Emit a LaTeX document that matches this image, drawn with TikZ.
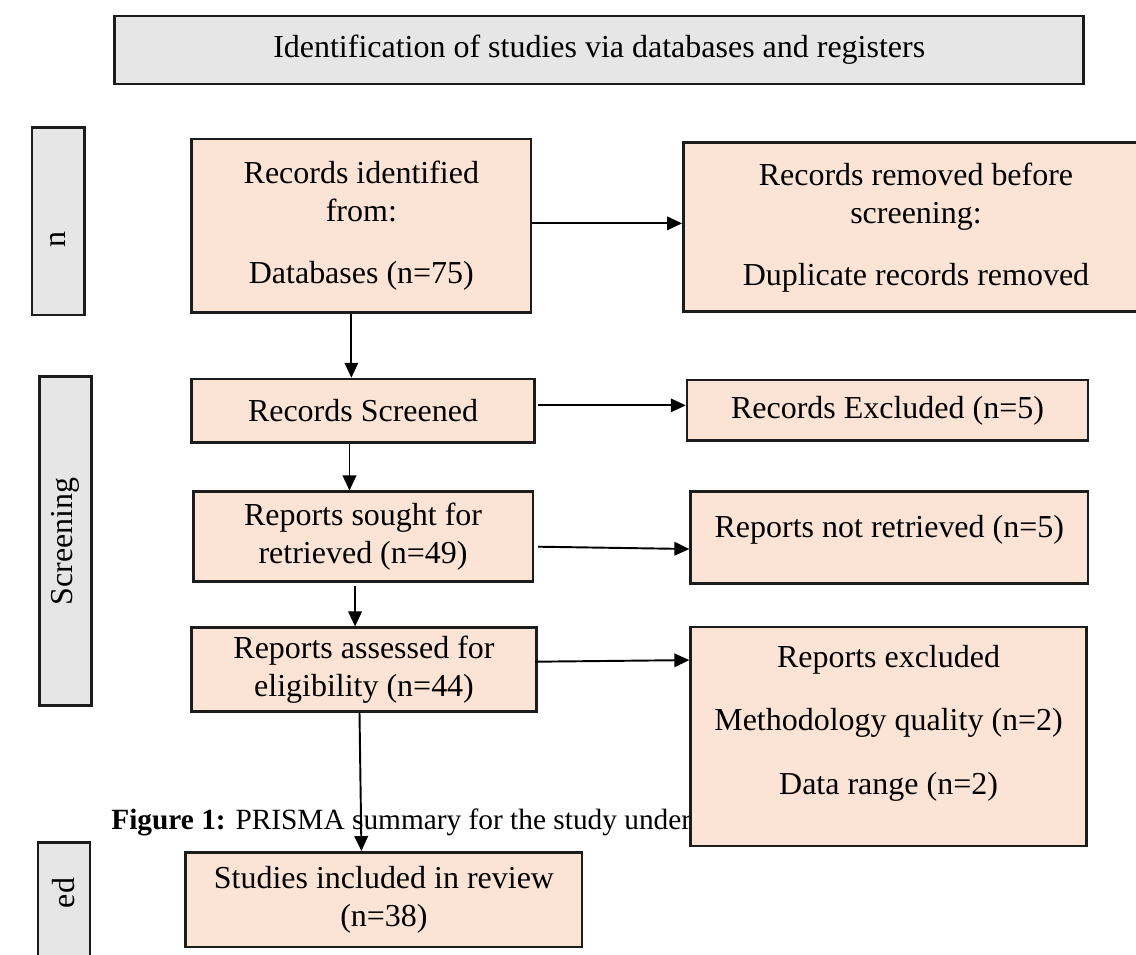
\documentclass[tikz,border=0pt]{standalone}
\usepackage{fontspec}
\setmainfont{Liberation Serif}
\usepackage{xcolor}
\usepackage{tikz}
\usetikzlibrary{arrows.meta}
\definecolor{Peach}{HTML}{FBE4D5}
\definecolor{PanelGray}{HTML}{E7E6E6}
\definecolor{Ink}{HTML}{1C1C1C}

\begin{document}
\begin{tikzpicture}[
  box/.style={rectangle, draw=Ink, line width=1.4pt, fill=Peach, align=center, inner sep=0pt, font=\fontsize{18.2}{21.8}\selectfont},
  band/.style={rectangle, draw=Ink, line width=1.4pt, fill=PanelGray, inner sep=0pt, font=\fontsize{18.2}{21.8}\selectfont},
  bandtext/.style={rotate=90, inner sep=0pt, font=\fontsize{18.2}{21.8}\selectfont},
  arrow/.style={-{Triangle[length=0.3cm,width=0.27cm]}, line width=1.1pt, draw=black}
]
\path[use as bounding box, clip] (0,0) rectangle (22.72,-19.08);
\node[band, minimum width=19.38cm, minimum height=1.36cm] (header) at (11.984,-1.0) {Identification of studies via databases and registers};
\node[band, minimum width=1.046cm, minimum height=3.746cm] (bandid) at (1.163,-4.427) {};
\node[bandtext] (bandidtext) at (1.163,-4.8) {n};
\node[band, minimum width=1.044cm, minimum height=6.58cm] (bandscr) at (1.312,-10.824) {};
\node[bandtext] (bandscrtext) at (bandscr) {Screening};
\node[band, minimum width=1.04cm, minimum height=3.146cm] (bandinc) at (1.28,-18.427) {};
\node[bandtext] (bandinctext) at (1.28,-17.86) {ed};
\node[box, minimum width=6.786cm, minimum height=3.474cm] (ident) at (7.227,-4.517) {Records identified\\from:\\[0.47cm]Databases (n=75)};
\node[box, minimum width=9.308cm, minimum height=3.38cm] (removed) at (18.32,-4.544) {Records removed before\\screening:\\[0.47cm]Duplicate records removed};
\node[box, minimum width=6.852cm, minimum height=1.274cm] (screened) at (7.26,-8.217) {Records Screened};
\node[box, minimum width=8.02cm, minimum height=1.214cm] (recexcl) at (17.75,-8.207) {Records Excluded (n=5)};
\node[box, minimum width=6.79cm, minimum height=1.8cm] (sought) at (7.261,-10.734) {Reports sought for\\retrieved (n=49)};
\node[box, minimum width=7.948cm, minimum height=1.832cm, text height=0.3cm, text depth=0.3cm] (notretr) at (17.786,-10.75) {Reports not retrieved (n=5)};
\node[box, minimum width=6.892cm, minimum height=1.68cm] (assessed) at (7.28,-13.394) {Reports assessed for\\eligibility (n=44)};
\node[anchor=base west, inner sep=0pt, font=\fontsize{16.7}{20}\selectfont] (caption) at (2.22,-16.58) {\textbf{Figure 1:} PRISMA summary for the study undert};
\node[box, minimum width=7.918cm, minimum height=4.384cm, text height=2.99cm, text depth=0.69cm] (repexcl) at (17.771,-14.732) {Reports excluded\\[0.5cm]Methodology quality (n=2)\\[0.5cm]Data range (n=2)};
\node[box, minimum width=7.93cm, minimum height=1.894cm] (included) at (7.679,-17.993) {Studies included in review\\(n=38)};
\draw[arrow] ([yshift=0.05cm]ident.east) -- ([yshift=0.05cm]ident.east -| removed.west);
\draw[arrow] ([xshift=-0.2cm]ident.south) -- ([xshift=-0.2cm]ident.south |- screened.north);
\draw[arrow] ([xshift=-0.27cm]screened.south) -- ([xshift=-0.27cm]screened.south |- sought.north);
\draw[arrow] ([xshift=-0.16cm,yshift=-0.06cm]sought.south) -- ([xshift=-0.16cm]sought.south |- assessed.north);
\draw[arrow] ([xshift=-0.09cm]assessed.south) -- ([xshift=-0.45cm]included.north);
\draw[arrow] ([xshift=0.05cm,yshift=0.11cm]screened.east) -- ([yshift=0.11cm]screened.east -| recexcl.west);
\draw[arrow] ([xshift=0.08cm,yshift=-0.2cm]sought.east) -- ([yshift=-0.23cm]notretr.west);
\draw[arrow] ([xshift=-0.05cm,yshift=0.16cm]assessed.east) -- ([yshift=1.53cm]repexcl.west);
\end{tikzpicture}
\end{document}
